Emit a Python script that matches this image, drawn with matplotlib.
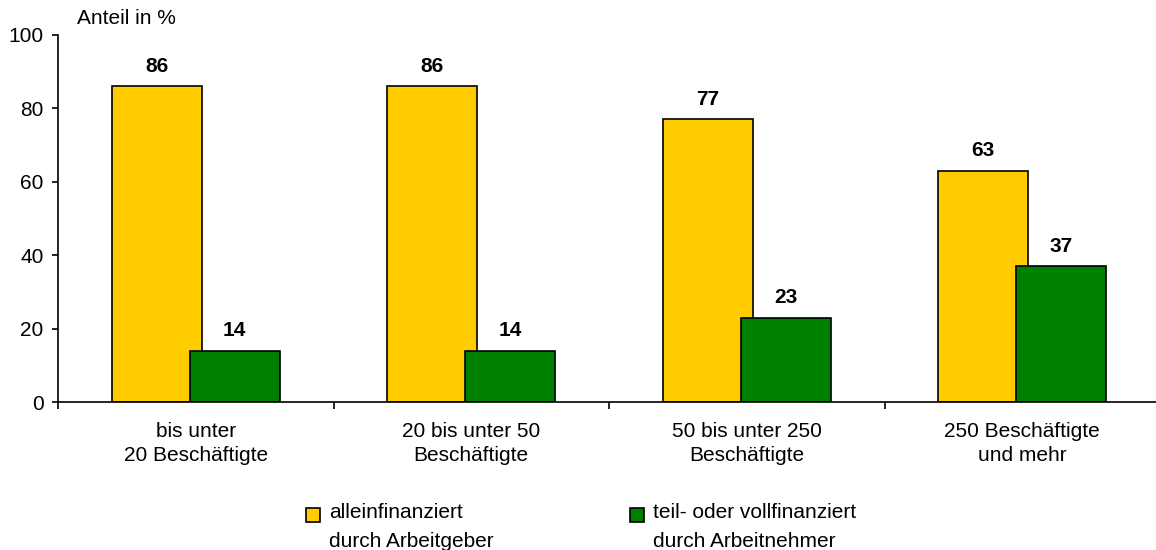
import numpy as np
import matplotlib.pyplot as plt
from matplotlib.patches import Rectangle

plt.rcParams['font.family'] = ['Liberation Sans', 'DejaVu Sans']

categories = ['bis unter\n20 Beschäftigte', '20 bis unter 50\nBeschäftigte',
              '50 bis unter 250\nBeschäftigte', '250 Beschäftigte\nund mehr']
arbeitgeber = [86, 86, 77, 63]
arbeitnehmer = [14, 14, 23, 37]
series_labels = ['alleinfinanziert\ndurch Arbeitgeber', 'teil- oder vollfinanziert\ndurch Arbeitnehmer']
colors = ['#FFCC00', '#008000']

fs = 15
fig = plt.figure(figsize=(11.56, 5.5), dpi=100)
ax = fig.add_axes([58/1156, 148/550, 1102/1156, 367/550])

x = np.arange(len(categories))
w = 0.327
off = 0.1416
for vals, dx, c in [(arbeitgeber, -off, colors[0]), (arbeitnehmer, off, colors[1])]:
    bars = ax.bar(x + dx, vals, width=w, color=c, edgecolor='black', linewidth=1.2)
    for b, v in zip(bars, vals):
        ax.annotate(str(v), (b.get_x() + b.get_width()/2, v), xytext=(0, 7.5),
                    textcoords='offset points', ha='center', va='bottom',
                    fontsize=fs, fontweight='bold')

ax.set_xlim(-0.5, 3.5)
ax.set_ylim(0, 100)
ax.set_yticks(range(0, 101, 20))
ax.tick_params(axis='y', labelsize=fs, length=4.5, width=1.2, pad=6)
ax.set_xticks(np.arange(-0.5, 4, 1))
ax.set_xticklabels([])
ax.tick_params(axis='x', which='major', direction='out', length=5, width=1.2)
ax.set_xticks(x, minor=True)
ax.set_xticklabels(categories, minor=True, fontsize=fs, linespacing=1.35)
ax.tick_params(axis='x', which='minor', length=0, pad=14.5)
for s in ['top', 'right']:
    ax.spines[s].set_visible(False)
for s in ['left', 'bottom']:
    ax.spines[s].set_linewidth(1.2)

fig.text(77/1156, 1 - 18/550, 'Anteil in %', fontsize=fs, va='center', ha='left')

# legend
for (lx, tx), lab, c in zip([(306, 329), (630, 653)], series_labels, colors):
    fig.add_artist(Rectangle((lx/1156, 1 - 522/550), 14/1156, 14/550,
                             facecolor=c, edgecolor='black', linewidth=1.2,
                             transform=fig.transFigure))
    first, second = lab.split('\n')
    fig.text(tx/1156, 1 - 518/550, first, fontsize=fs, va='baseline', ha='left')
    fig.text(tx/1156, 1 - 547/550, second, fontsize=fs, va='baseline', ha='left')

fig.savefig('out.png', dpi=100)
